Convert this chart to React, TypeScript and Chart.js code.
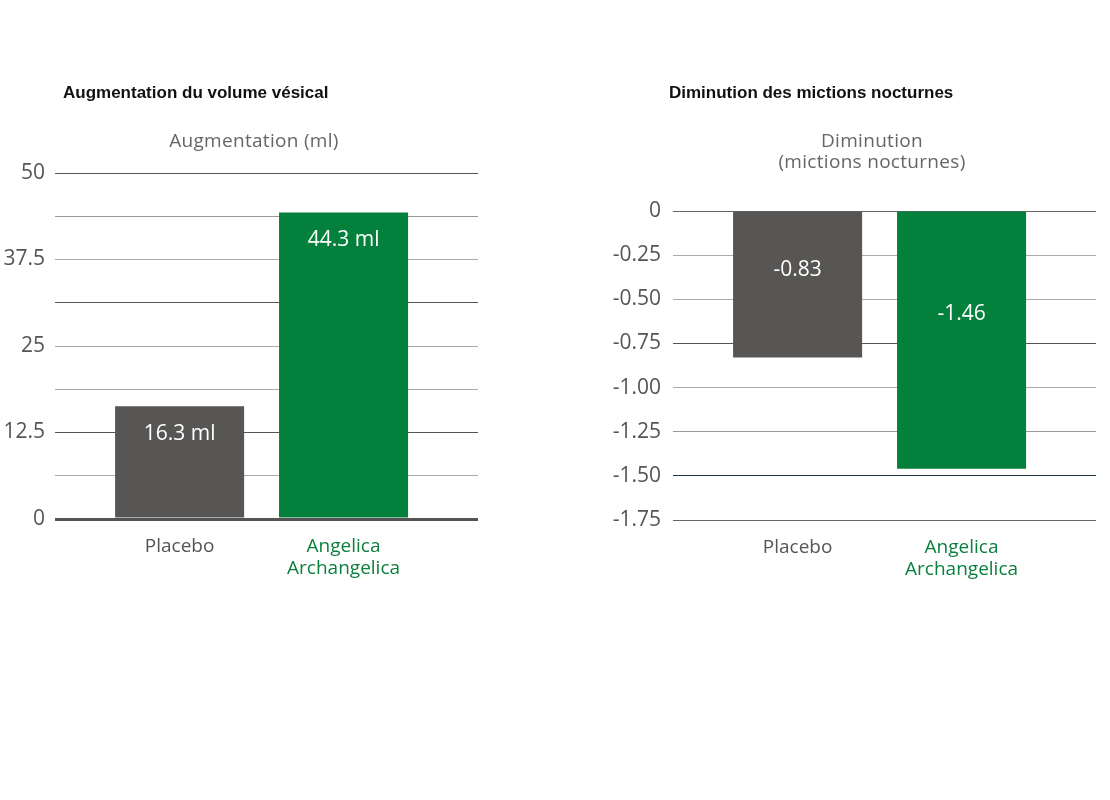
import React, { useEffect, useRef } from "react";
import { Chart, registerables } from "chart.js";

Chart.register(...registerables);

// ---- Data ----
const categories = ["Placebo", ["Angelica", "Archangelica"]];
const categoryColors = ["#555555", "#0b7f3d"];
const barColors = ["#575654", "#03803b"];

const volumeValues = [16.3, 44.3];
const volumeLabels = ["16.3 ml", "44.3 ml"];
const volumeTitle = "Augmentation du volume vésical";
const volumeAxisTitle = ["Augmentation (ml)"];
const volumeTickStep = 6.25;
const volumeLabelStep = 12.5;
const volumeGridColors = ["#555555", "#aaaaaa", "#555555", "#aaaaaa", "#aaaaaa", "#555555", "#aaaaaa", "#999999", "#555555"];

const nocturiaValues = [-0.83, -1.46];
const nocturiaLabels = ["-0.83", "-1.46"];
const nocturiaTitle = "Diminution des mictions nocturnes";
const nocturiaAxisTitle = ["Diminution", "(mictions nocturnes)"];
const nocturiaTickStep = 0.25;
const nocturiaGridColors = ["#666666", "#1e3a48", "#999999", "#aaaaaa", "#555555", "#aaaaaa", "#aaaaaa", "#666666"];

const FONT = "'Open Sans', sans-serif";

type BarLabelOpts = { texts: string[]; mode: "top" | "ratio"; offset: number; ratio: number };

const barLabelPlugin = {
  id: "barLabels",
  afterDatasetsDraw(chart: any, _args: any, opts: BarLabelOpts) {
    const ctx = chart.ctx;
    const meta = chart.getDatasetMeta(0);
    ctx.save();
    ctx.fillStyle = "#ffffff";
    ctx.font = `21px ${FONT}`;
    ctx.textAlign = "center";
    ctx.textBaseline = "middle";
    meta.data.forEach((el: any, i: number) => {
      const y = opts.mode === "top" ? el.y + opts.offset : el.base + (el.y - el.base) * opts.ratio;
      ctx.fillText(opts.texts[i], el.x, y);
    });
    ctx.restore();
  },
};

function makeConfig(
  values: number[],
  yMin: number,
  yMax: number,
  step: number,
  gridColors: string[],
  tickFmt: (v: number) => string,
  padding: any,
  axisWidth: number,
  tickPad: number,
  labelOpts: BarLabelOpts
): any {
  return {
    type: "bar",
    data: {
      datasets: [
        {
          data: values.map((v, i) => ({ x: i + 1, y: v })),
          backgroundColor: barColors,
          borderWidth: 0,
          categoryPercentage: 1,
          barPercentage: 0.787,
        },
      ],
    },
    plugins: [barLabelPlugin],
    options: {
      responsive: false,
      animation: false,
      devicePixelRatio: 1,
      layout: { padding },
      plugins: {
        legend: { display: false },
        tooltip: { enabled: false },
        title: { display: false },
        barLabels: labelOpts,
      },
      scales: {
        x: {
          type: "linear",
          min: 0.24,
          max: 2.82,
          offset: false,
          grid: { display: false, offset: false },
          border: { display: false },
          afterFit: (s: any) => {
            s.height = 80;
          },
          ticks: {
            stepSize: 1,
            includeBounds: false,
            maxRotation: 0,
            autoSkip: false,
            padding: 9,
            font: { family: FONT, size: 19, lineHeight: 1.15 },
            color: (c: any) => categoryColors[Math.round(c.tick.value) - 1] || "#555",
            callback: (v: number) => categories[Math.round(v) - 1] as any,
          },
        },
        y: {
          min: yMin,
          max: yMax,
          border: { display: false },
          afterFit: (s: any) => {
            s.width = axisWidth;
          },
          grid: {
            drawTicks: false,
            color: (c: any) => gridColors[c.index] || "#aaa",
            lineWidth: (c: any) => (c.tick && c.tick.value === 0 && yMin === 0 ? 3 : 1),
          },
          ticks: {
            stepSize: step,
            padding: tickPad,
            color: "#555555",
            font: { family: FONT, size: 21 },
            callback: (v: number) => tickFmt(v),
          },
        },
      },
    },
  };
}

function BarChart({ config, left, top, width, height }: any) {
  const ref = useRef<HTMLCanvasElement>(null);
  useEffect(() => {
    const chart = new Chart(ref.current as HTMLCanvasElement, config);
    return () => chart.destroy();
  }, [config]);
  return (
    <canvas
      ref={ref}
      width={width}
      height={height}
      style={{ position: "absolute", left, top, width, height }}
    />
  );
}

const leftConfig = makeConfig(
  volumeValues,
  0,
  50,
  volumeTickStep,
  volumeGridColors,
  (v) => (Math.abs(v % volumeLabelStep) < 1e-9 ? String(v) : ""),
  { top: 73, left: 0, right: 30, bottom: 1 },
  55,
  10,
  { texts: volumeLabels, mode: "top", offset: 28, ratio: 0 }
);

const rightConfig = makeConfig(
  nocturiaValues,
  -1.75,
  0,
  nocturiaTickStep,
  nocturiaGridColors,
  (v) => (Math.abs(v) < 1e-9 ? "0" : v.toFixed(2)),
  { top: 111, left: 0, right: 14, bottom: 0 },
  113,
  12,
  { texts: nocturiaLabels, mode: "ratio", offset: 0, ratio: 0.4 }
);

const titleStyle: React.CSSProperties = {
  position: "absolute",
  fontFamily: "'Liberation Sans', Arial, sans-serif",
  fontWeight: "bold",
  fontSize: 17,
  lineHeight: "20px",
  color: "#111",
  whiteSpace: "nowrap",
};

const axisTitleStyle: React.CSSProperties = {
  position: "absolute",
  fontFamily: FONT,
  fontSize: 19,
  letterSpacing: "0.3px",
  lineHeight: "21px",
  color: "#666",
  width: 400,
  textAlign: "center",
};

export default function App() {
  return (
    <div style={{ position: "absolute", left: 0, top: 0, width: 1110, height: 800, background: "#fff", overflow: "hidden" }}>
      <BarChart config={leftConfig} left={0} top={100} width={508} height={500} />
      <BarChart config={rightConfig} left={560} top={100} width={550} height={500} />
      <div style={{ ...titleStyle, left: 63, top: 83 }}>{volumeTitle}</div>
      <div style={{ ...titleStyle, left: 669, top: 83 }}>{nocturiaTitle}</div>
      <div style={{ ...axisTitleStyle, left: 54, top: 130 }}>
        {volumeAxisTitle.map((t) => (
          <div key={t}>{t}</div>
        ))}
      </div>
      <div style={{ ...axisTitleStyle, left: 672, top: 130 }}>
        {nocturiaAxisTitle.map((t) => (
          <div key={t}>{t}</div>
        ))}
      </div>
    </div>
  );
}
